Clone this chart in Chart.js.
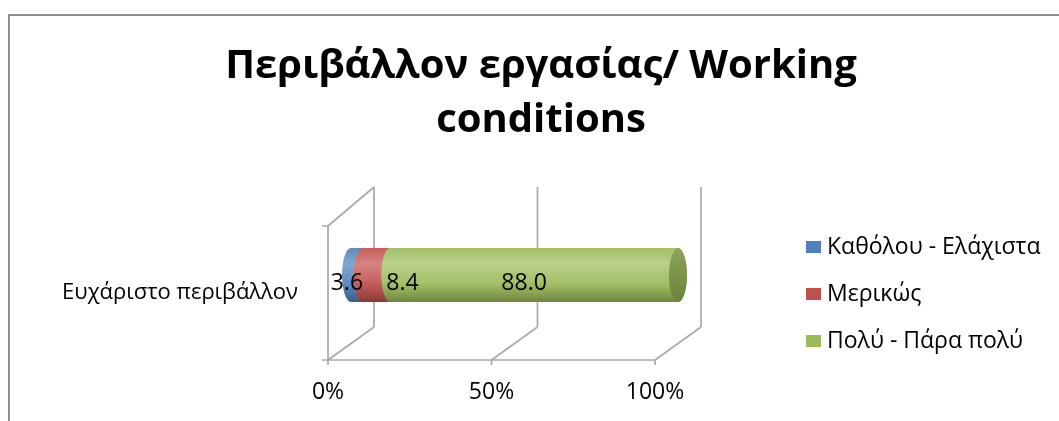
<!DOCTYPE html>
<html>
<head>
<meta charset="utf-8">
<script src="https://cdn.jsdelivr.net/npm/chart.js@4.4.1/dist/chart.umd.min.js"></script>
<style>
  html, body { margin: 0; padding: 0; background: #fff; }
  body { position: relative; width: 1059px; height: 421px; overflow: hidden; }
  #frame { position: absolute; left: 8px; top: 14px; width: 1200px; height: 600px;
           border-left: 2px solid #8e8e8e; border-top: 2px solid #8e8e8e; }
  #wrap { position: absolute; left: 0; top: 0; width: 1059px; height: 421px; }
</style>
</head>
<body>
<div id="frame"></div>
<div id="wrap"><canvas id="c" width="1059" height="421"></canvas></div>
<script>
// ---- data ----
const categories = ['Ευχάριστο περιβάλλον'];
const seriesNames = ['Καθόλου - Ελάχιστα', 'Μερικώς', 'Πολύ - Πάρα πολύ'];
const notAtAll = [3.6];
const partly = [8.4];
const veryMuch = [88.0];
const xTickValues = [0, 50, 100];
const titleLines = ['Περιβάλλον εργασίας/ Working', 'conditions'];

// ---- look ----
const FONT = '"Open Sans", "DejaVu Sans", sans-serif';
const seriesColors = ['#4F81BD', '#C0504D', '#9BBB59'];
const capColors = ['#3d6699', '#9a3d3b', '#7b9a43'];
const wallColor = '#a9a9a9';
// pseudo-3D depth of the plot box (back plane offset from the front plane)
const depth = { dx: 46, dyBottom: -33, dyTop: -39 };
const capRx = 9;
const labelNudge = [-10, 26, -10];

function mix(hex, target, t) {
  const n = parseInt(hex.slice(1), 16);
  const r = (n >> 16) & 255, g = (n >> 8) & 255, b = n & 255;
  const tr = target === 'w' ? 255 : 0;
  const f = c => Math.round(c + (tr - c) * t);
  return `rgb(${f(r)},${f(g)},${f(b)})`;
}

// back walls, floor and tick marks of the 3-D frame
const frame3d = {
  id: 'frame3d',
  beforeDatasetsDraw(chart) {
    const { ctx, chartArea: a, scales: { x } } = chart;
    const L = a.left, B = a.bottom, T = a.top;
    ctx.save();
    ctx.strokeStyle = wallColor;
    ctx.lineWidth = 1.7;
    ctx.beginPath();
    // left wall
    ctx.moveTo(L, T); ctx.lineTo(L, B);
    ctx.moveTo(L, T); ctx.lineTo(L + depth.dx, T + depth.dyTop);
    ctx.moveTo(L - 6, T); ctx.lineTo(L, T);
    ctx.moveTo(L - 6, B); ctx.lineTo(L, B);
    // floor front edge
    ctx.moveTo(L, B); ctx.lineTo(a.right, B);
    xTickValues.forEach(v => {
      const px = x.getPixelForValue(v);
      // floor diagonal
      ctx.moveTo(px, B); ctx.lineTo(px + depth.dx, B + depth.dyBottom);
      // back wall gridline
      ctx.moveTo(px + depth.dx, B + depth.dyBottom); ctx.lineTo(px + depth.dx, T + depth.dyTop);
      // tick mark
      ctx.moveTo(px, B); ctx.lineTo(px, B + 5);
    });
    ctx.stroke();
    ctx.restore();
  },
  beforeDatasetDraw() { return false; },
  afterDatasetsDraw(chart) {
    const { ctx, chartArea: a } = chart;
    const dx = depth.dx / 2;
    const n = chart.data.datasets.length;
    ctx.save();
    for (let d = 0; d < n; d++) {
      const meta = chart.getDatasetMeta(d);
      meta.data.forEach(el => {
        const p = el.getProps(['x', 'base', 'y', 'height'], true);
        const frac = (a.bottom - p.y) / (a.bottom - a.top);
        const dy = (depth.dyBottom + (depth.dyTop - depth.dyBottom) * frac) / 2;
        const x0 = Math.min(p.base, p.x) + dx, x1 = Math.max(p.base, p.x) + dx;
        const cy = p.y + dy, ry = p.height / 2;
        const top = cy - ry, bot = cy + ry;
        const base = seriesColors[d];
        const g = ctx.createLinearGradient(0, top, 0, bot);
        g.addColorStop(0, mix(base, 'w', 0.08));
        g.addColorStop(0.3, mix(base, 'w', 0.3));
        g.addColorStop(0.65, mix(base, 'w', 0.08));
        g.addColorStop(1, mix(base, 'k', 0.28));
        ctx.fillStyle = g;
        ctx.beginPath();
        ctx.moveTo(x0, top);
        ctx.lineTo(x1, top);
        ctx.ellipse(x1, cy, capRx, ry, 0, -Math.PI / 2, Math.PI / 2, false);
        ctx.lineTo(x0, bot);
        ctx.ellipse(x0, cy, capRx, ry, 0, Math.PI / 2, Math.PI * 1.5, false);
        ctx.closePath();
        ctx.fill();
        if (d === n - 1) {
          const gc = ctx.createLinearGradient(0, top, 0, bot);
          gc.addColorStop(0, mix(capColors[d], 'w', 0.12));
          gc.addColorStop(1, mix(capColors[d], 'k', 0.15));
          ctx.fillStyle = gc;
          ctx.beginPath();
          ctx.ellipse(x1, cy, capRx, ry, 0, 0, Math.PI * 2);
          ctx.fill();
        }
      });
    }
    // value labels
    ctx.fillStyle = '#000';
    ctx.font = '23px ' + FONT;
    ctx.textAlign = 'center';
    ctx.textBaseline = 'middle';
    for (let d = 0; d < n; d++) {
      const meta = chart.getDatasetMeta(d);
      const vals = chart.data.datasets[d].data;
      meta.data.forEach((el, i) => {
        const p = el.getProps(['x', 'base', 'y', 'height'], true);
        const frac = (a.bottom - p.y) / (a.bottom - a.top);
        const dy = (depth.dyBottom + (depth.dyTop - depth.dyBottom) * frac) / 2;
        const cx = (p.x + p.base) / 2 + dx + labelNudge[d];
        ctx.fillText(vals[i].toFixed(1), cx, p.y + dy + 8);
      });
    }
    ctx.restore();
  },
  afterDraw(chart) {
    // legend on the right
    const { ctx } = chart;
    ctx.save();
    ctx.font = '23px ' + FONT;
    ctx.textAlign = 'left';
    ctx.textBaseline = 'middle';
    chart.data.datasets.forEach((ds, i) => {
      const cy = 247 + i * 47;
      ctx.fillStyle = ds.backgroundColor;
      ctx.fillRect(806, cy - 6, 15, 12);
      ctx.fillStyle = '#000';
      ctx.fillText(ds.label, 827, cy);
    });
    ctx.restore();
  }
};

const seriesData = [notAtAll, partly, veryMuch];

new Chart(document.getElementById('c'), {
  type: 'bar',
  data: {
    labels: categories,
    datasets: seriesNames.map((name, i) => ({
      label: name,
      data: seriesData[i],
      backgroundColor: seriesColors[i],
      barThickness: 54
    }))
  },
  options: {
    indexAxis: 'y',
    responsive: false,
    animation: false,
    layout: { padding: { left: 23, right: 0, top: 0, bottom: 0 } },
    plugins: {
      legend: { display: false },
      tooltip: { enabled: false },
      title: {
        display: true,
        text: titleLines,
        color: '#000',
        font: { family: FONT, size: 40, weight: 'bold', lineHeight: 54 / 40 },
        padding: { top: 40, bottom: 78 }
      }
    },
    scales: {
      x: {
        type: 'linear', stacked: true, min: 0, max: 100,
        grid: { display: false, drawTicks: false },
        border: { display: false },
        afterBuildTicks: s => { s.ticks = xTickValues.map(v => ({ value: v })); },
        afterFit: s => { s.height = 61; },
        ticks: { color: '#000', padding: 19, maxRotation: 0, font: { family: FONT, size: 23 },
                 callback: v => v + '%' }
      },
      y: {
        type: 'category', stacked: true,
        grid: { display: false, drawTicks: false },
        border: { display: false },
        afterFit: s => { s.width = 305; },
        ticks: { color: '#000', padding: 30, font: { family: FONT, size: 22 } }
      },
      legendSpace: {
        type: 'linear', position: 'right', display: true,
        grid: { display: false, drawTicks: false },
        border: { display: false },
        ticks: { display: false },
        afterFit: s => { s.width = 404; }
      }
    }
  },
  plugins: [frame3d]
});
</script>
</body>
</html>
